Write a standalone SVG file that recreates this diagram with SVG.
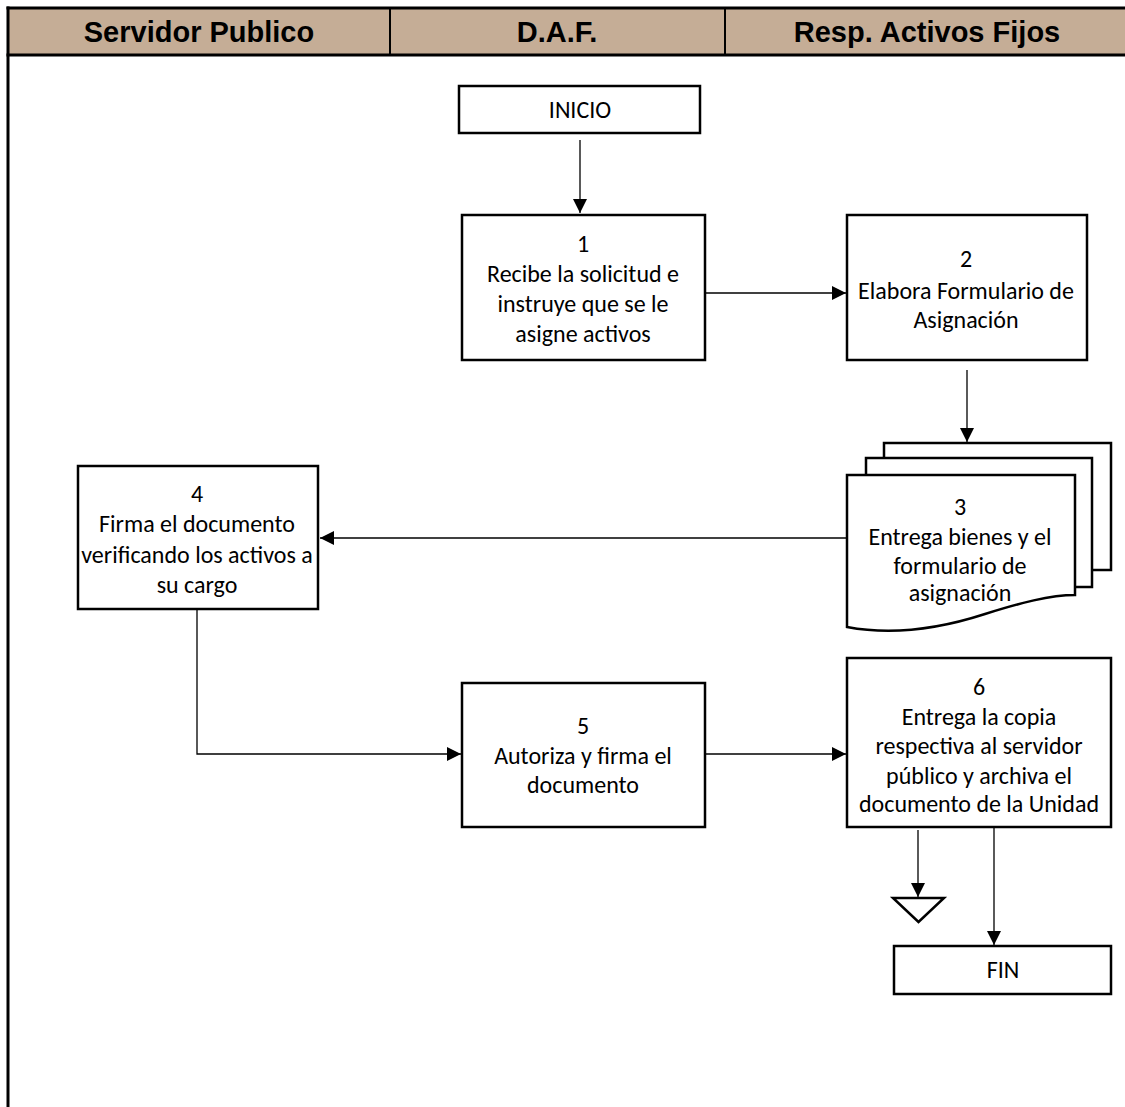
<svg xmlns="http://www.w3.org/2000/svg" width="1125" height="1107" viewBox="0 0 1125 1107">
  <defs>
    <marker id="arrow" viewBox="0 0 14 14" refX="14" refY="7" markerWidth="14" markerHeight="14" markerUnits="userSpaceOnUse" orient="auto">
      <path d="M0,0 L14,7 L0,14 Z" fill="#000"/>
    </marker>
    <style>
      .lane-title { font-family: "Liberation Sans", Arial, sans-serif; font-weight: bold; font-size: 29px; fill: #000; text-anchor: middle; }
      .box { fill: #fff; stroke: #000; stroke-width: 2.5; }
      .label { font-family: Carlito, Lato, "Open Sans", sans-serif; font-size: 24px; fill: #000; text-anchor: middle; }
      .conn { fill: none; stroke: #000; stroke-width: 1.3; }
    </style>
  </defs>

  <rect width="1125" height="1107" fill="#fff"/>

  <!-- Swimlane header -->
  <g id="lanes">
    <rect x="8" y="8" width="1125" height="47" fill="#C5AD96" stroke="none"/>
    <line x1="6.5" y1="8" x2="1125" y2="8" stroke="#000" stroke-width="3"/>
    <line x1="6.5" y1="55" x2="1125" y2="55" stroke="#000" stroke-width="3"/>
    <line x1="8" y1="6.5" x2="8" y2="1107" stroke="#000" stroke-width="3"/>
    <line x1="390" y1="8" x2="390" y2="55" stroke="#000" stroke-width="2"/>
    <line x1="725" y1="8" x2="725" y2="55" stroke="#000" stroke-width="2"/>
    <text class="lane-title" x="199" y="42">Servidor Publico</text>
    <text class="lane-title" x="557" y="42">D.A.F.</text>
    <text class="lane-title" x="927" y="42">Resp. Activos Fijos</text>
  </g>

  <!-- Connectors -->
  <g id="connectors">
    <line class="conn" x1="580" y1="140" x2="580" y2="213" marker-end="url(#arrow)"/>
    <line class="conn" x1="705" y1="293" x2="846" y2="293" marker-end="url(#arrow)"/>
    <line class="conn" x1="967" y1="370" x2="967" y2="442" marker-end="url(#arrow)"/>
    <line class="conn" x1="847" y1="538" x2="320" y2="538" marker-end="url(#arrow)"/>
    <polyline class="conn" points="197,610 197,754 461,754" marker-end="url(#arrow)"/>
    <line class="conn" x1="705" y1="754" x2="846" y2="754" marker-end="url(#arrow)"/>
    <line class="conn" x1="918" y1="830" x2="918" y2="897" marker-end="url(#arrow)"/>
    <line class="conn" x1="994" y1="828" x2="994" y2="945" marker-end="url(#arrow)"/>
  </g>

  <!-- Start -->
  <g id="inicio">
    <rect class="box" x="459" y="86" width="241" height="47"/>
    <text class="label" x="580" y="118">INICIO</text>
  </g>

  <!-- Step 1 -->
  <g id="step1">
    <rect class="box" x="462" y="215" width="243" height="145"/>
    <text class="label" x="583" y="252">1</text>
    <text class="label" x="583" y="282">Recibe la solicitud e</text>
    <text class="label" x="583" y="312">instruye que se le</text>
    <text class="label" x="583" y="342">asigne activos</text>
  </g>

  <!-- Step 2 -->
  <g id="step2">
    <rect class="box" x="847" y="215" width="240" height="145"/>
    <text class="label" x="966" y="267">2</text>
    <text class="label" x="966" y="299">Elabora Formulario de</text>
    <text class="label" x="966" y="328">Asignación</text>
  </g>

  <!-- Step 3: stacked documents -->
  <g id="step3">
    <rect class="box" x="884" y="443" width="227" height="127"/>
    <rect class="box" x="866" y="458" width="226" height="129"/>
    <path class="box" d="M847,475 H1075 V595 C1050,595 1020,603 985,614 C945,627 895,636 847,627 Z"/>
    <text class="label" x="960" y="515">3</text>
    <text class="label" x="960" y="545">Entrega bienes y el</text>
    <text class="label" x="960" y="574">formulario de</text>
    <text class="label" x="960" y="601">asignación</text>
  </g>

  <!-- Step 4 -->
  <g id="step4">
    <rect class="box" x="78" y="466" width="240" height="143"/>
    <text class="label" x="197" y="502">4</text>
    <text class="label" x="197" y="532">Firma el documento</text>
    <text class="label" x="197" y="563">verificando los activos a</text>
    <text class="label" x="197" y="593">su cargo</text>
  </g>

  <!-- Step 5 -->
  <g id="step5">
    <rect class="box" x="462" y="683" width="243" height="144"/>
    <text class="label" x="583" y="734">5</text>
    <text class="label" x="583" y="764">Autoriza y firma el</text>
    <text class="label" x="583" y="793">documento</text>
  </g>

  <!-- Step 6 -->
  <g id="step6">
    <rect class="box" x="847" y="658" width="264" height="169"/>
    <text class="label" x="979" y="695">6</text>
    <text class="label" x="979" y="725">Entrega la copia</text>
    <text class="label" x="979" y="754">respectiva al servidor</text>
    <text class="label" x="979" y="784">público y archiva el</text>
    <text class="label" x="979" y="812">documento de la Unidad</text>
  </g>

  <!-- Archive -->
  <g id="archive">
    <path class="box" d="M893,898 H944 L918.5,922 Z" stroke-width="2"/>
  </g>

  <!-- End -->
  <g id="fin">
    <rect class="box" x="894" y="946" width="217" height="48"/>
    <text class="label" x="1003" y="978">FIN</text>
  </g>
</svg>
